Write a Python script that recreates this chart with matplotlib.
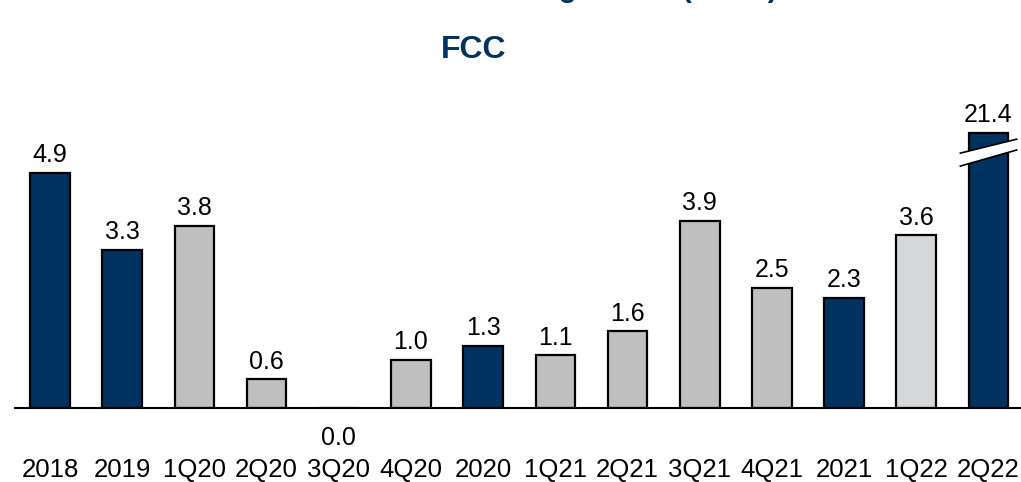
import matplotlib.pyplot as plt
from matplotlib.patches import Polygon

plt.rcParams['font.family'] = ['Liberation Sans', 'DejaVu Sans']

# --- data ---
periods = ['2018', '2019', '1Q20', '2Q20', '3Q20', '4Q20', '2020',
           '1Q21', '2Q21', '3Q21', '4Q21', '2021', '1Q22', '2Q22']
values = [4.9, 3.3, 3.8, 0.6, 0.0, 1.0, 1.3, 1.1, 1.6, 3.9, 2.5, 2.3, 3.6, 21.4]
kinds = ['year', 'year', 'q', 'q', 'q', 'q', 'year',
         'q', 'q', 'q', 'q', 'year', 'q22', 'year']
break_cap = 5.73  # drawn height of the broken 2Q22 bar

navy = '#00325F'
colors = {'year': navy, 'q': '#BFBFBF', 'q22': '#D6D7D9'}

fig = plt.figure(figsize=(10.21, 4.82), dpi=100)
ax = fig.add_axes([0, 74 / 482, 1, 408 / 482])

x = list(range(len(periods)))
heights = [min(v, break_cap) for v in values]
ax.bar(x, heights, width=0.55, color=[colors[k] for k in kinds],
       edgecolor='black', linewidth=1.6, zorder=2)

# baseline
ax.plot([-0.485, 13.6], [0, 0], color='black', linewidth=1.5, zorder=3,
        clip_on=False)

# value labels
for xi, v, h in zip(x, values, heights):
    if v == 0:
        ax.annotate(f'{v:.1f}', (xi, 0), xytext=(0, -13), textcoords='offset points',
                    ha='center', va='top', fontsize=18)
    else:
        ax.annotate(f'{v:.1f}', (xi, h), xytext=(0, 4), textcoords='offset points',
                    ha='center', va='bottom', fontsize=18)

# axis break on the last bar
bx = x[-1]
x0, x1 = bx - 0.39, bx + 0.39
upper = (5.31, 5.60)
lower = (5.04, 5.375)
ax.add_patch(Polygon([(x0, lower[0]), (x1, lower[1]), (x1, upper[1]), (x0, upper[0])],
                     closed=True, facecolor='white', edgecolor='none', zorder=4,
                     clip_on=False))
ax.plot([x0, x1], upper, color='black', linewidth=1.2, zorder=5, clip_on=False)
ax.plot([x0, x1], lower, color='black', linewidth=1.2, zorder=5, clip_on=False)

ax.set_xlim(-0.693, 13.45)
ax.set_ylim(0, 8.5)
ax.set_xticks(x)
ax.set_xticklabels(periods, fontsize=18.5)
ax.tick_params(axis='x', length=0, pad=36)
ax.set_yticks([])
for s in ax.spines.values():
    s.set_visible(False)

# titles
fig.text(0.464, 1 - 50 / 482, 'FCC', ha='center', va='center',
         fontsize=23, fontweight='bold', color=navy)
# heading of the slide, cut off at the top edge
fig.text(460 / 1021, 1 + 3 / 482, 'Coverage Ratio (times)', ha='left', va='baseline',
         fontsize=21, fontweight='bold', color=navy)

fig.savefig('out.png', dpi=100)
